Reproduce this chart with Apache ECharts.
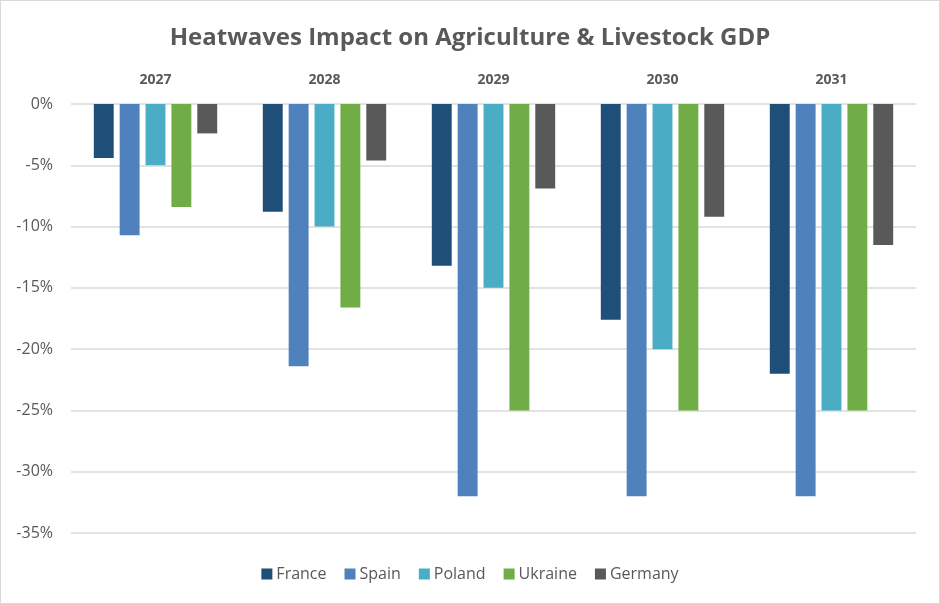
<!DOCTYPE html>
<html><head><meta charset="utf-8">
<script src="https://cdn.jsdelivr.net/npm/echarts@6/dist/echarts.min.js"></script>
<style>html,body{margin:0;padding:0;background:#fff}#c{position:absolute;left:0;top:0;width:938px;height:602px;border:1px solid #d9d9d9}</style>
</head><body><div id="c"></div>
<script>
const categories = ['2027','2028','2029','2030','2031'];
const seriesNames = ['France','Spain','Poland','Ukraine','Germany'];
const france = [-4.4, -8.8, -13.2, -17.6, -22];
const spain = [-10.7, -21.4, -32, -32, -32];
const poland = [-5, -10, -15, -20, -25];
const ukraine = [-8.4, -16.6, -25, -25, -25];
const germany = [-2.4, -4.6, -6.9, -9.2, -11.5];
const colors = ['#1F4E79','#4F81BD','#4BACC6','#70AD47','#595959'];
const values = [france, spain, poland, ukraine, germany];
const chart = echarts.init(document.getElementById('c'));
chart.setOption({
  animation:false,
  title:{text:'Heatwaves Impact on Agriculture & Livestock GDP',left:'center',top:20,
    textStyle:{fontFamily:'Open Sans',fontSize:24,fontWeight:'bold',color:'#595959'}},
  legend:{bottom:16,left:'center',itemWidth:11,itemHeight:11,itemGap:18,icon:'rect',
    textStyle:{fontFamily:'Open Sans',fontSize:16,color:'#595959',padding:[0,0,0,-1]},data:seriesNames},
  grid:{left:70,right:23,top:103,bottom:70,containLabel:false},
  xAxis:{type:'category',position:'top',data:categories,
    axisLine:{show:false},axisTick:{show:false},
    axisLabel:{fontFamily:'Open Sans',fontSize:14,fontWeight:'bold',color:'#595959',margin:17}},
  yAxis:{type:'value',min:-35,max:0,interval:5,
    axisLabel:{formatter:v=>v+'%',fontFamily:'Open Sans',fontSize:16,color:'#595959',margin:18},
    splitLine:{lineStyle:{color:'#d9d9d9',width:1.5}},axisLine:{show:false},axisTick:{show:false}},
  series: seriesNames.map((n,i)=>({name:n,type:'bar',data:values[i],itemStyle:{color:colors[i]},
    barGap:'30%',barCategoryGap:'27%'}))
});
</script></body></html>
